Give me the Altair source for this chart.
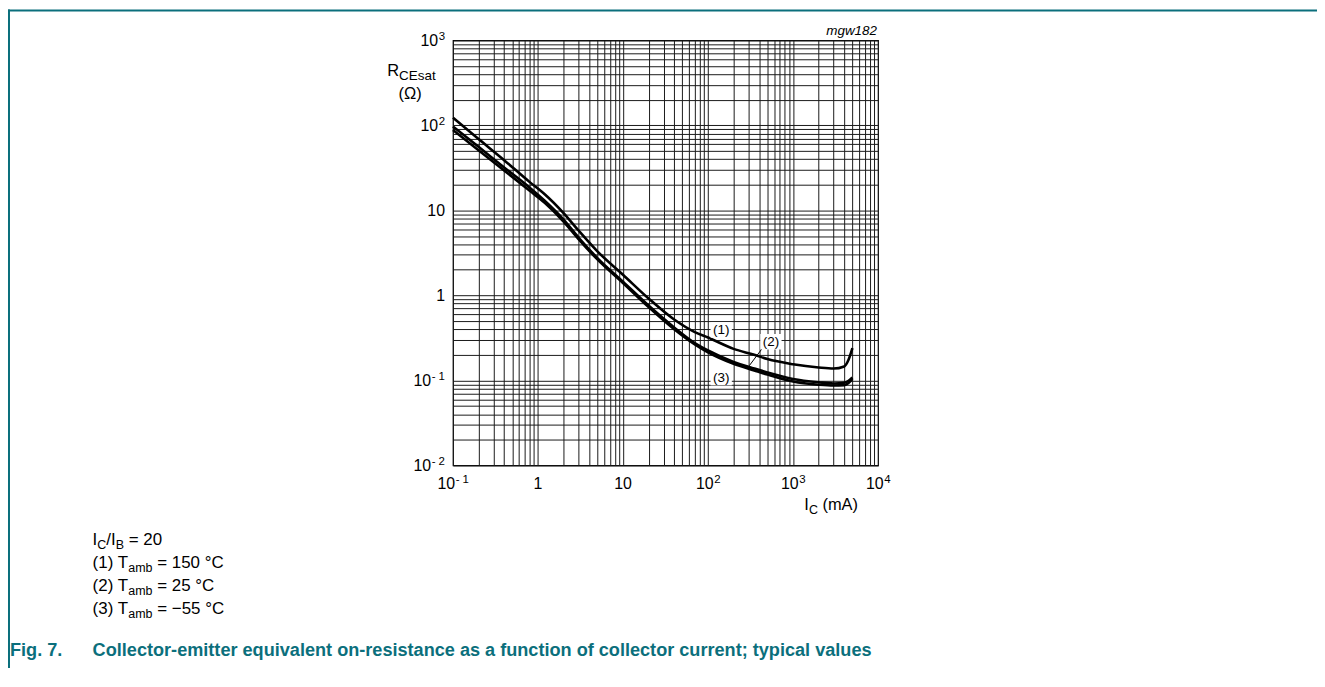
import altair as alt
import pandas as pd

# ---------------- data ----------------
ic = [0.1, 0.2, 0.4, 0.8, 1.2, 2, 3, 5, 10, 20, 40, 70, 100, 200, 350, 500,
      1000, 2000, 3000, 4000, 4500, 5000]
r_150 = [123, 69, 39, 21.5, 15.5, 9.3, 5.8, 3.3, 1.75, 0.92, 0.52, 0.37, 0.32,
         0.235, 0.20, 0.178, 0.155, 0.142, 0.138, 0.146, 0.175, 0.24]
r_25 = [97, 56, 32, 18.5, 13, 7.8, 4.8, 2.75, 1.45, 0.76, 0.42, 0.275, 0.225,
        0.165, 0.138, 0.124, 0.104, 0.095, 0.092, 0.094, 0.099, 0.108]
r_m55 = [88, 51, 29.5, 17, 12.3, 7.4, 4.6, 2.65, 1.4, 0.73, 0.40, 0.265, 0.214,
         0.157, 0.131, 0.117, 0.097, 0.089, 0.087, 0.088, 0.093, 0.104]
curve_names = ["(1)", "(2)", "(3)"]

x_decades = [0.1, 1, 10, 100, 1000, 10000]
x_label_base = ["10", "1", "10", "10", "10", "10"]
x_label_sup = ["- 1", "", "", "2", "3", "4"]
y_decades = [0.01, 0.1, 1, 10, 100, 1000]
y_label_base = ["10", "10", "1", "10", "10", "10"]
y_label_sup = ["- 2", "- 1", "", "", "2", "3"]

# curve labels (position in data units)
lab_text = ["(1)", "(2)", "(3)"]
lab_x = [143, 550, 143]
lab_y = [0.392, 0.285, 0.108]
leader = {"x": 435, "y": 0.238, "x2": 306, "y2": 0.149}

# ---------------- helpers ----------------
FONT = "Liberation Sans"
TEAL = "#0b6f7c"
PAD_L, PAD_T = 447, 31

rows = []
for name, ys_ in zip(curve_names, [r_150, r_25, r_m55]):
    for x, y in zip(ic, ys_):
        rows.append({"curve": name, "ic": x, "r": y})
df = pd.DataFrame(rows)


def grid_values(decades):
    vals = []
    for d in decades[:-1]:
        for m in range(1, 10):
            vals.append(m * d)
    vals.append(decades[-1])
    return vals


W = {' ': 278, '(': 333, ')': 333, '=': 584, '\u00b0': 400, '\u2212': 584, '/': 278,
     '-': 333, '.': 278, 'A': 667, 'B': 667, 'C': 722, 'E': 667, 'I': 278,
     'R': 722, 'T': 611, 'a': 556, 'b': 556, 'm': 833, 's': 500, 't': 278,
     '\u03a9': 768}


def text_width(t, size):
    return sum(W.get(c, 556) for c in t) * size / 1000.0


def txt(t, x, y, size, align="left", baseline="alphabetic", color="black",
        weight="normal", style="normal"):
    return alt.Chart(alt.Data(values=[{}])).mark_text(
        text=t, align=align, baseline=baseline, fontSize=size, font=FONT,
        color=color, fontWeight=weight, fontStyle=style
    ).encode(x=alt.value(x), y=alt.value(y))


def rich(runs, x, y, center=False):
    total = sum(text_width(t, s) for t, s, _ in runs)
    cx = x - total / 2 if center else x
    out = []
    for t, s, dy in runs:
        lead_sp = len(t) - len(t.lstrip(" "))
        start = cx + text_width(" " * lead_sp, s)
        out.append(txt(t.strip(" "), start, y + dy, s))
        cx += text_width(t, s)
    return out


# ---------------- chart ----------------
xs = alt.Scale(type="log", domain=[0.1, 10000], nice=False)
ys = alt.Scale(type="log", domain=[0.01, 1000], nice=False)

x_axis = alt.Axis(values=grid_values(x_decades), labels=False,
                  grid=True, gridColor="#1a1a1a", gridWidth=1, ticks=False, domain=False,
                  title=None)
y_axis = alt.Axis(values=grid_values(y_decades), labels=False,
                  grid=True, gridColor="#1a1a1a", gridWidth=1, ticks=False, domain=False,
                  title=None)


def X(field):
    return alt.X(field, scale=xs, axis=x_axis)


def Y(field):
    return alt.Y(field, scale=ys, axis=y_axis)


lines = alt.Chart(df).mark_line(strokeWidth=2.6, interpolate="monotone", color="black").encode(
    x=X("ic:Q"), y=Y("r:Q"), detail="curve:N",
)

lab_df = pd.DataFrame({"t": lab_text, "x": lab_x, "y": lab_y})
boxes = alt.Chart(lab_df).mark_point(
    shape="M-1.3,-0.95H1.3V0.95H-1.3Z", size=270, filled=True, color="white", opacity=1
).encode(x=X("x:Q"), y=Y("y:Q"))
labels = alt.Chart(lab_df).mark_text(fontSize=13.5, font=FONT, color="black").encode(
    x=X("x:Q"), y=Y("y:Q"), text="t:N")
lead = alt.Chart(pd.DataFrame([leader])).mark_rule(color="black", strokeWidth=1).encode(
    x=X("x:Q"), y=Y("y:Q"), x2="x2:Q", y2="y2:Q")

layers = [lines, lead, boxes, labels]

# tick labels (base + superscript)
BASE, SUP = 16, 11.5
for d, b, s in zip(x_decades, x_label_base, x_label_sup):
    wb, ws = text_width(b, BASE), text_width(s, SUP)
    tot = wb + ws
    layers.append(alt.Chart(alt.Data(values=[{"v": d}])).mark_text(
        text=b, align="left", baseline="alphabetic", fontSize=BASE, font=FONT,
        color="black", dx=-tot / 2).encode(x=X("v:Q"), y=alt.value(451)))
    if s:
        layers.append(alt.Chart(alt.Data(values=[{"v": d}])).mark_text(
            text=s, align="left", baseline="alphabetic", fontSize=SUP, font=FONT,
            color="black", dx=-tot / 2 + wb + 0.5).encode(x=X("v:Q"), y=alt.value(445)))

for d, b, s in zip(y_decades, y_label_base, y_label_sup):
    ws = text_width(s, SUP)
    right = -8
    layers.append(alt.Chart(alt.Data(values=[{"v": d}])).mark_text(
        text=b, align="right", baseline="alphabetic", fontSize=BASE, font=FONT,
        color="black", dy=5.7).encode(
        x=alt.value(right - ws - (0.5 if s else 0)), y=Y("v:Q")))
    if s:
        layers.append(alt.Chart(alt.Data(values=[{"v": d}])).mark_text(
            text=s, align="left", baseline="alphabetic", fontSize=SUP, font=FONT,
            color="black", dy=-0.5).encode(x=alt.value(right - ws), y=Y("v:Q")))

# axis titles
layers += rich([("R", 16.5, 0), ("CEsat", 13.5, 4)], -66, 36)
layers.append(txt("(\u03a9)", -43, 59, 16.5, align="center"))
layers += rich([("I", 16.5, 0), ("C", 12.5, 4), (" (mA)", 16.5, 0)], 353, 472)
layers.append(txt("mgw182", 426, -5, 13.5, align="right", style="italic"))

# notes below the chart (positions relative to plot origin)
nx = -362
NS, NSUB = 17, 12.5
layers += rich([("I", NS, 0), ("C", NSUB, 4), ("/I", NS, 0), ("B", NSUB, 4), (" = 20", NS, 0)], nx, 507)
layers += rich([("(1) T", NS, 0), ("amb", NSUB, 4), (" = 150 \u00b0C", NS, 0)], nx, 530)
layers += rich([("(2) T", NS, 0), ("amb", NSUB, 4), (" = 25 \u00b0C", NS, 0)], nx, 553)
layers += rich([("(3) T", NS, 0), ("amb", NSUB, 4), (" = \u221255 \u00b0C", NS, 0)], nx, 576)

# caption
CS = 18.2
layers.append(txt("Fig. 7.", -445, 618, CS, color=TEAL, weight="bold"))
layers.append(txt("Collector-emitter equivalent on-resistance as a function of collector current; typical values",
                  -362, 618, CS, color=TEAL, weight="bold"))

# page frame lines
frame_left = alt.Chart(alt.Data(values=[{}])).mark_rule(color=TEAL, strokeWidth=2).encode(
    x=alt.value(-PAD_L + 1), y=alt.value(-PAD_T), y2=alt.value(640))
frame_top = alt.Chart(alt.Data(values=[{}])).mark_rule(color=TEAL, strokeWidth=2).encode(
    x=alt.value(-PAD_L), x2=alt.value(880), y=alt.value(-PAD_T + 1))
layers += [frame_left, frame_top]

chart = alt.layer(*layers).properties(
    width=427, height=427,
    autosize=alt.AutoSizeParams(type="none"),
    padding={"left": PAD_L, "top": PAD_T, "right": 441, "bottom": 202},
).configure_view(stroke="black", strokeWidth=1.2)

chart.save("out.html", embed_options={"renderer": "svg", "actions": False})
